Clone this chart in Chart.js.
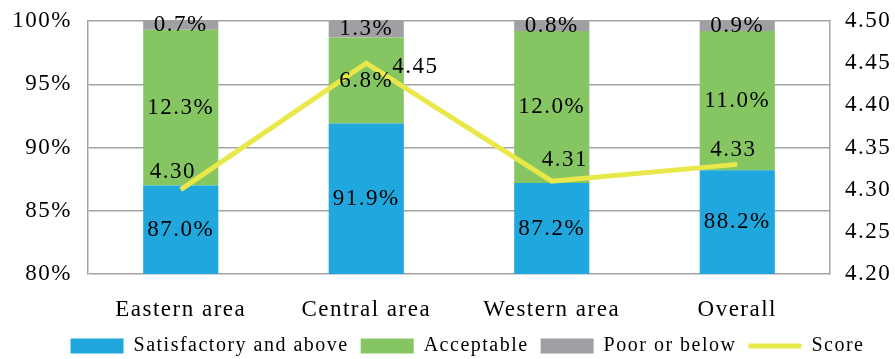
<!DOCTYPE html>
<html>
<head>
<meta charset="utf-8">
<script src="https://cdn.jsdelivr.net/npm/chart.js@4/dist/chart.umd.min.js"></script>
<style>
  html, body { margin: 0; padding: 0; background: #fff; }
  #wrap { width: 895px; height: 359px; }
</style>
</head>
<body>
<div id="wrap"><canvas id="myChart"></canvas></div>
<script>
'use strict';

const areas = ['Eastern area', 'Central area', 'Western area', 'Overall'];
const satisfactory = [87.0, 91.9, 87.2, 88.2];
const acceptable = [12.3, 6.8, 12.0, 11.0];
const poor = [0.7, 1.3, 0.8, 0.9];
const score = [4.30, 4.45, 4.31, 4.33];
const pctTicks = [80, 85, 90, 95, 100];
const scoreTicks = [4.20, 4.25, 4.30, 4.35, 4.40, 4.45, 4.50];

const serif = '"Liberation Serif", "Times New Roman", serif';
const gridGray = '#a3a3a3';

// where each score label sits relative to its point (px)
const scoreLabelShift = [[-8, -18], [49, 4], [13, -21], [-4, -14]];

// the reference text is a bit wider spaced than plain Times
const spacing = {
  id: 'spacing',
  beforeUpdate: (chart) => { chart.ctx.letterSpacing = '1.5px'; },
  beforeDraw: (chart) => { chart.ctx.letterSpacing = '1.5px'; },
  afterInit: (chart) => {
    const lg = chart.legend;
    if (!lg) return;
    const fit = lg.fit.bind(lg);
    lg.fit = function () { fit(); this.height = 35; };
  },
  afterLayout: (chart) => {
    // legend sits a little right of centre in the reference
    if (chart.legend) chart.legend.left += 40;
  }
};

const noScalePad = (s) => { s.paddingTop = 0; s.paddingBottom = 0; };

const valueLabels = {
  id: 'valueLabels',
  afterDatasetsDraw: (chart) => {
    const ctx = chart.ctx;
    const y = chart.scales.y;
    ctx.save();
    ctx.letterSpacing = '1.5px';
    ctx.font = '23px ' + serif;
    ctx.fillStyle = '#000';
    ctx.textAlign = 'center';
    ctx.textBaseline = 'middle';
    [0, 1, 2].forEach(di => {
      const meta = chart.getDatasetMeta(di);
      const data = chart.data.datasets[di].data;
      meta.data.forEach((bar, i) => {
        let base = 0;
        for (let k = 0; k < di; k++) base += chart.data.datasets[k].data[i];
        const lo = Math.max(base, y.min);
        const hi = Math.min(base + data[i], y.max);
        const mid = y.getPixelForValue((lo + hi) / 2);
        ctx.fillText(data[i].toFixed(1) + '%', bar.x, mid);
      });
    });
    const lm = chart.getDatasetMeta(3);
    lm.data.forEach((pt, i) => {
      const s = scoreLabelShift[i];
      ctx.fillText(score[i].toFixed(2), pt.x + s[0], pt.y + s[1]);
    });
    ctx.restore();
  }
};

const config = {
  type: 'bar',
  data: {
    labels: areas,
    datasets: [
      { label: 'Satisfactory and above', data: satisfactory, backgroundColor: '#1fa7de', order: 1 },
      { label: 'Acceptable', data: acceptable, backgroundColor: '#86c662', order: 1 },
      { label: 'Poor or below', data: poor, backgroundColor: '#a0a0a4', order: 1 },
      {
        type: 'line', label: 'Score', data: score, yAxisID: 'y1',
        borderColor: '#e9e84a', backgroundColor: '#e9e84a', borderWidth: 5,
        pointRadius: 0, tension: 0, order: 0
      }
    ]
  },
  options: {
    responsive: true,
    maintainAspectRatio: false,
    animation: false,
    datasets: { bar: { categoryPercentage: 1, barPercentage: 0.405 } },
    layout: { padding: { top: 21, left: 0, right: 0, bottom: 0 } },
    scales: {
      x: {
        stacked: true,
        afterFit: (s) => { s.height = 50; },
        grid: { display: false, drawTicks: false },
        border: { display: false },
        ticks: { color: '#000', font: { family: serif, size: 23 }, padding: 22 }
      },
      y: {
        stacked: true,
        min: 80, max: 100,
        afterBuildTicks: (s) => { s.ticks = pctTicks.map(v => ({ value: v })); },
        afterFit: (s) => { s.width = 88; noScalePad(s); },
        grid: { color: gridGray, lineWidth: 1.5, drawTicks: false },
        border: { color: gridGray, width: 1.5 },
        ticks: { color: '#000', font: { family: serif, size: 23 }, padding: 16, callback: v => v + '%' }
      },
      y1: {
        position: 'right',
        min: 4.2, max: 4.5,
        afterBuildTicks: (s) => { s.ticks = scoreTicks.map(v => ({ value: v })); },
        afterFit: (s) => { s.width = 65; noScalePad(s); },
        grid: { display: false, drawTicks: false },
        border: { color: gridGray, width: 1.5 },
        ticks: { color: '#000', font: { family: serif, size: 23 }, padding: 15, callback: v => v.toFixed(2) }
      }
    },
    plugins: {
      tooltip: { enabled: false },
      legend: {
        position: 'bottom',
        labels: {
          color: '#000',
          font: { family: serif, size: 20 },
          usePointStyle: true,
          pointStyleWidth: 53,
          boxHeight: 15,
          padding: 12,
          generateLabels: (chart) => chart.data.datasets.map((d, i) => ({
            text: d.label,
            datasetIndex: i,
            fillStyle: d.backgroundColor,
            strokeStyle: d.borderColor || d.backgroundColor,
            lineWidth: d.type === 'line' ? 5 : 0,
            pointStyle: d.type === 'line' ? 'line' : 'rect',
            fontColor: '#000',
            hidden: false
          }))
        }
      }
    }
  },
  plugins: [spacing, valueLabels]
};

new Chart(document.getElementById('myChart'), config);
</script>
</body>
</html>
